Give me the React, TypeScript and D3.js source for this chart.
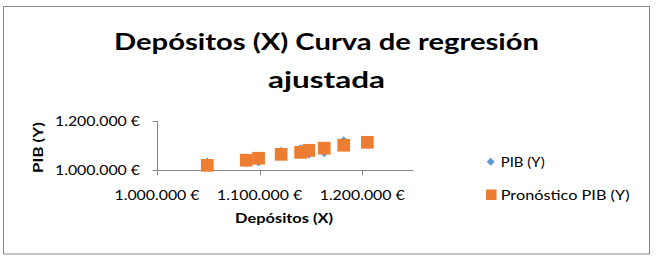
import React from "react";
import * as d3 from "d3";

const depositos = [1049000, 1087000, 1099000, 1121000, 1140000, 1148000, 1163000, 1182000, 1205000];
const pib = [1035000, 1027000, 1031000, 1079000, 1089000, 1062000, 1068000, 1122000, 1112000];
const pronostico = [1019000, 1040000, 1048000, 1064000, 1072000, 1080000, 1089000, 1101000, 1113000];
const xTicks = [1000000, 1100000, 1200000];
const yTicks = [1000000, 1200000];
const titleLines = ["Depósitos (X) Curva de regresión", "ajustada"];
const seriesNames = ["PIB (Y)", "Pronóstico PIB (Y)"];
const xTitle = "Depósitos (X)";
const yTitle = "PIB (Y)";

const FONT = "Lato, 'Open Sans', sans-serif";
const fmt = (v: number) => d3.format(",")(v).replace(/,/g, ".") + " €";

type TP = { x: number; y: number; len: number; size: number; anchor?: string; bold?: boolean; rotate?: number; children: React.ReactNode };
function T({ x, y, len, size, anchor = "start", bold = false, rotate = 0, children }: TP) {
  return (
    <text
      transform={`translate(${x},${y}) rotate(${rotate})`}
      textAnchor={anchor}
      fontSize={size}
      fontWeight={bold ? "bold" : "normal"}
      textLength={len}
      lengthAdjust="spacingAndGlyphs"
      fill="#000"
    >
      {children}
    </text>
  );
}

export default function App() {
  const W = 656, H = 261;
  const x = d3.scaleLinear().domain([1000000, 1250000]).range([157, 413.5]);
  const y = d3.scaleLinear().domain([1000000, 1200000]).range([170, 121]);
  const blue = "#5b9bd5";
  const orange = "#ed7d31";
  const axisColor = "#868686";
  const diamond = d3.symbol().type(d3.symbolDiamond2).size(40);
  const sq = 12.7;
  const x0 = Math.round(x(1000000)) + 0.5;
  const y0 = Math.round(y(1000000)) + 0.5;
  return (
    <svg width={W} height={H} style={{ position: "absolute", left: 0, top: 0 }} fontFamily={FONT}>
      <rect x={0} y={0} width={W} height={H} fill="#fff" />
      <rect x={3.5} y={6.5} width={646} height={247.5} fill="#fff" stroke={axisColor} strokeWidth={1} />
      <T x={326.5} y={49.5} len={425} size={22.5} anchor="middle" bold>{titleLines[0]}</T>
      <T x={326.5} y={88} len={117} size={22.5} anchor="middle" bold>{titleLines[1]}</T>
      {/* axes */}
      <line x1={x0} x2={x0} y1={y(1200000)} y2={y0} stroke={axisColor} />
      <line x1={x0} x2={x(1250000)} y1={y0} y2={y0} stroke={axisColor} />
      {yTicks.map((t) => (
        <g key={t}>
          <line x1={x0 - 5} x2={x0} y1={Math.round(y(t)) + 0.5} y2={Math.round(y(t)) + 0.5} stroke={axisColor} />
          <T x={140} y={y(t) + 5} len={85} size={12.5} anchor="end">{fmt(t)}</T>
        </g>
      ))}
      {xTicks.map((t) => (
        <g key={t}>
          <line x1={Math.round(x(t)) + 0.5} x2={Math.round(x(t)) + 0.5} y1={y0} y2={y0 + 5} stroke={axisColor} />
          <T x={x(t)} y={199.5} len={85} size={12.5} anchor="middle">{fmt(t)}</T>
        </g>
      ))}
      <T x={284} y={223} len={98} size={12.5} anchor="middle" bold>{xTitle}</T>
      <T x={43} y={147.5} len={51} size={12.5} anchor="middle" bold rotate={-90}>{yTitle}</T>
      {/* series */}
      {depositos.map((d, i) => (
        <path key={"b" + i} d={diamond() as string} transform={`translate(${x(d)},${y(pib[i])})`} fill={blue} />
      ))}
      {depositos.map((d, i) => (
        <rect key={"o" + i} x={x(d) - sq / 2} y={y(pronostico[i]) - sq / 2} width={sq} height={sq} fill={orange} />
      ))}
      {/* legend */}
      <path d={diamond() as string} transform="translate(490.7,161.7)" fill={blue} />
      <T x={500.7} y={167} len={44} size={12.5}>{seriesNames[0]}</T>
      <rect x={486} y={189.5} width={10.5} height={10.5} fill={orange} />
      <T x={500.7} y={200} len={129} size={12.5}>{seriesNames[1]}</T>
    </svg>
  );
}
